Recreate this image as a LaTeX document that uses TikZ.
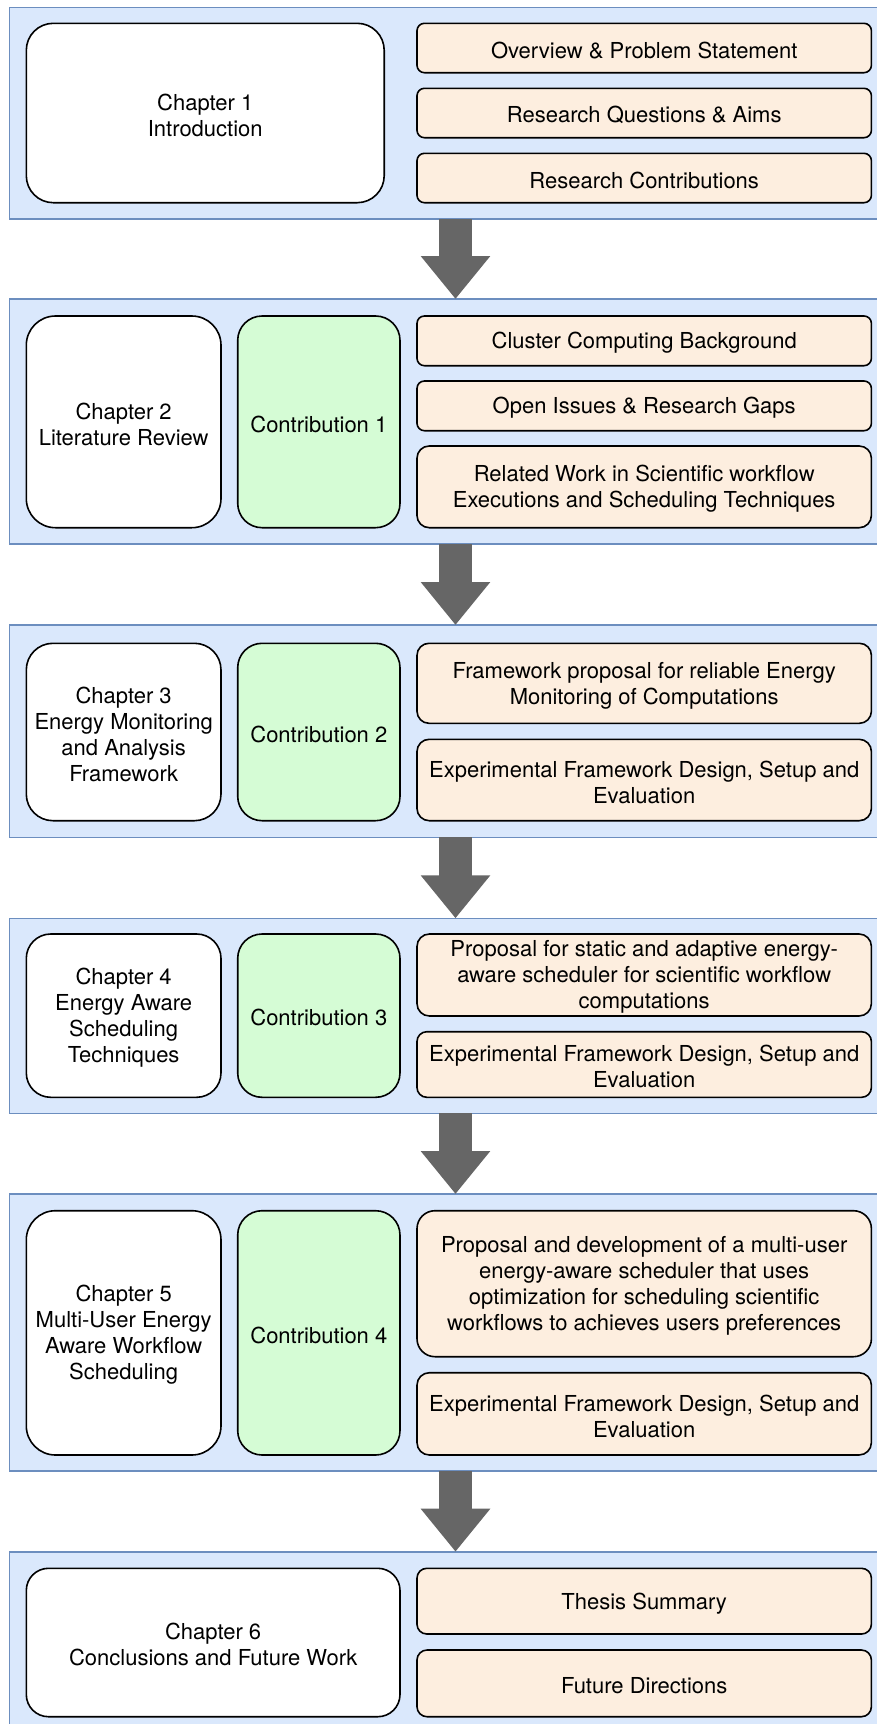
\documentclass[tikz,border=0pt]{standalone}
\usepackage{fontspec}
\setmainfont{TeX Gyre Heros}
\usetikzlibrary{arrows.meta}

\definecolor{panelfill}{HTML}{DAE8FC}
\definecolor{paneldraw}{HTML}{6C8EBF}
\definecolor{contribfill}{HTML}{D5FCD5}
\definecolor{topicfill}{HTML}{FDEEDF}
\definecolor{arrowgray}{HTML}{666666}

% one rounded block: style, corner radius, x1, y1, x2, y2 (px), name, text
\newcommand{\blk}[8]{%
  \node[#1, rounded corners=#2,
        minimum width={(#5-#3)*0.5pt}, minimum height={(#6-#4)*0.5pt}]
       (#7) at ({(#3+#5)/2},{(#4+#6)/2}) {};
  \node[label] (#7-text) at ([yshift=-1.1pt]#7.center) {#8};}

\begin{document}
\begin{tikzpicture}[x=0.5pt, y=-0.5pt,
  every node/.style={inner sep=0pt, outer sep=0pt},
  label/.style={align=center, font=\fontsize{11}{13}\selectfont},
  panel/.style={fill=panelfill, draw=paneldraw, line width=0.8pt},
  chapbox/.style={fill=white, draw=black, line width=0.8pt},
  contribbox/.style={fill=contribfill, draw=black, line width=0.8pt},
  topicbox/.style={fill=topicfill, draw=black, line width=0.8pt},
  bigarrow/.style={draw=arrowgray, line width=16.2pt,
                   -{Triangle[width=33.4pt, length=21.5pt]}, arrowgray}
]
\useasboundingbox (0,0) rectangle (877,1724);
\clip (0,0) rectangle (877,1724);

% chapter panels
\blk{panel}{0pt}{9.5}{7.5}{901.5}{219}{p1}{}
\blk{panel}{0pt}{9.5}{299}{901.5}{544}{p2}{}
\blk{panel}{0pt}{9.5}{625}{901.5}{837.3}{p3}{}
\blk{panel}{0pt}{9.5}{918.3}{901.5}{1113.3}{p4}{}
\blk{panel}{0pt}{9.5}{1194}{901.5}{1471}{p5}{}
\blk{panel}{0pt}{9.5}{1551.7}{901.5}{1733}{p6}{}

% Chapter 1
\blk{chapbox}{13.5pt}{26.3}{23.3}{384.2}{202.7}{c1}{Chapter 1\\Introduction}
\blk{topicbox}{3.7pt}{417}{23.3}{871.4}{72.7}{o11}{Overview \& Problem Statement}
\blk{topicbox}{3.7pt}{417}{88.3}{871.4}{137.7}{o12}{Research Questions \& Aims}
\blk{topicbox}{3.7pt}{417}{153.3}{871.4}{202.7}{o13}{Research Contributions}

% Chapter 2
\blk{chapbox}{14.6pt}{26.3}{316}{221}{527.7}{c2}{Chapter 2\\Literature Review}
\blk{contribbox}{12.2pt}{237.7}{316}{400}{527.7}{k1}{Contribution 1}
\blk{topicbox}{3.7pt}{417}{316}{871.4}{365.7}{o21}{Cluster Computing Background}
\blk{topicbox}{3.7pt}{417}{381}{871.4}{430.7}{o22}{Open Issues \& Research Gaps}
\blk{topicbox}{6.1pt}{417}{446}{871.4}{527.7}{o23}{Related Work in Scientific workflow\\Executions and Scheduling Techniques}

% Chapter 3
\blk{chapbox}{13.3pt}{26.3}{643.3}{221}{820.7}{c3}{Chapter 3\\Energy Monitoring\\and Analysis\\Framework}
\blk{contribbox}{12.2pt}{237.7}{643.3}{400}{820.7}{k2}{Contribution 2}
\blk{topicbox}{6pt}{417}{643.3}{871.4}{723.3}{o31}{Framework proposal for reliable Energy\\Monitoring of Computations}
\blk{topicbox}{6.1pt}{417}{739.3}{871.4}{820.7}{o32}{Experimental Framework Design, Setup and\\Evaluation}

% Chapter 4
\blk{chapbox}{12.2pt}{26.3}{934}{221}{1097.3}{c4}{Chapter 4\\Energy Aware\\Scheduling\\Techniques}
\blk{contribbox}{12.2pt}{237.7}{934}{400}{1097.3}{k3}{Contribution 3}
\blk{topicbox}{6.2pt}{417}{934}{871.4}{1016}{o41}{Proposal for static and adaptive energy-\\aware scheduler for scientific workflow\\computations}
\blk{topicbox}{4.9pt}{417}{1031.7}{871.4}{1097.3}{o42}{Experimental Framework Design, Setup and\\Evaluation}

% Chapter 5
\blk{chapbox}{14.6pt}{26.3}{1210.7}{221}{1455}{c5}{Chapter 5\\Multi-User Energy\\Aware Workflow\\Scheduling}
\blk{contribbox}{12.2pt}{237.7}{1210.7}{400}{1455}{k4}{Contribution 4}
\blk{topicbox}{9pt}{417}{1210.7}{871.4}{1356.7}{o51}{Proposal and development of a multi-user\\energy-aware scheduler that uses\\optimization for scheduling scientific\\workflows to achieves users preferences}
\blk{topicbox}{6.2pt}{417}{1372.7}{871.4}{1455}{o52}{Experimental Framework Design, Setup and\\Evaluation}

% Chapter 6
\blk{chapbox}{11.1pt}{26.3}{1568.3}{400}{1716.7}{c6}{Chapter 6\\Conclusions and Future Work}
\blk{topicbox}{4.9pt}{417}{1568.3}{871.4}{1634}{o61}{Thesis Summary}
\blk{topicbox}{5pt}{417}{1650}{871.4}{1716.7}{o62}{Future Directions}

% flow between chapters
\draw[bigarrow] (p1.south) -- (p2.north);
\draw[bigarrow] (p2.south) -- (p3.north);
\draw[bigarrow] (p3.south) -- (p4.north);
\draw[bigarrow] (p4.south) -- (p5.north);
\draw[bigarrow] (p5.south) -- (p6.north);
\end{tikzpicture}
\end{document}
